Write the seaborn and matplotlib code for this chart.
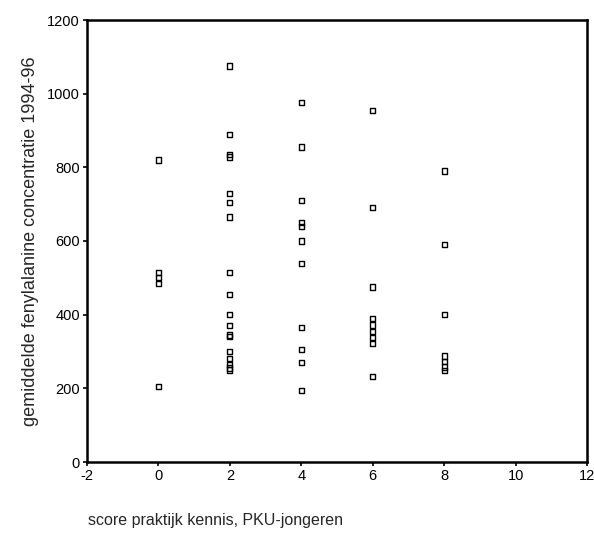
import matplotlib
matplotlib.use("Agg")
import matplotlib.pyplot as plt
import seaborn as sns
import pandas as pd

# Knowledge score per group and the mean phenylalanine values of each participant
score_0 = [820, 515, 500, 485, 205]
score_2 = [1075, 890, 835, 828, 730, 705, 665, 515, 455, 400, 370, 345, 340,
           300, 280, 265, 255, 250]
score_4 = [975, 855, 710, 650, 640, 600, 540, 365, 305, 270, 195]
score_6 = [955, 690, 475, 390, 372, 355, 338, 322, 232]
score_8 = [790, 590, 400, 288, 272, 258, 248]

groups = {0: score_0, 2: score_2, 4: score_4, 6: score_6, 8: score_8}

x_ticks = [-2, 0, 2, 4, 6, 8, 10, 12]
y_ticks = [0, 200, 400, 600, 800, 1000, 1200]

rows = [(k, v) for k, vals in groups.items() for v in vals]
df = pd.DataFrame(rows, columns=["score", "phe"])

sns.set_style("ticks")
plt.rcParams["font.family"] = ["Liberation Sans", "DejaVu Sans"]
plt.rcParams["axes.unicode_minus"] = False

fig = plt.figure(figsize=(5.94, 5.38), dpi=100)
ax = fig.add_axes([87 / 594, 1 - 462 / 538, 500 / 594, 442 / 538])

sns.scatterplot(data=df, x="score", y="phe", ax=ax, marker="s", s=14,
                facecolor="none", edgecolor="black", linewidth=1.0, legend=False)

ax.set_xlim(-2, 12)
ax.set_ylim(0, 1200)
ax.set_xticks(x_ticks)
ax.set_yticks(y_ticks)
ax.tick_params(axis="both", direction="out", length=3, width=1.2,
               labelsize=10.5, colors="black", pad=2)
for sp in ax.spines.values():
    sp.set_visible(True)
    sp.set_linewidth(1.8)
    sp.set_color("black")

ax.set_xlabel("")
ax.set_ylabel("gemiddelde fenylalanine concentratie 1994-96", fontsize=13, labelpad=6)
fig.text(88 / 594, 1 - 520 / 538, "score praktijk kennis, PKU-jongeren",
         fontsize=11.5, ha="left", va="center")

fig.savefig("out.png", dpi=100, facecolor="white")
